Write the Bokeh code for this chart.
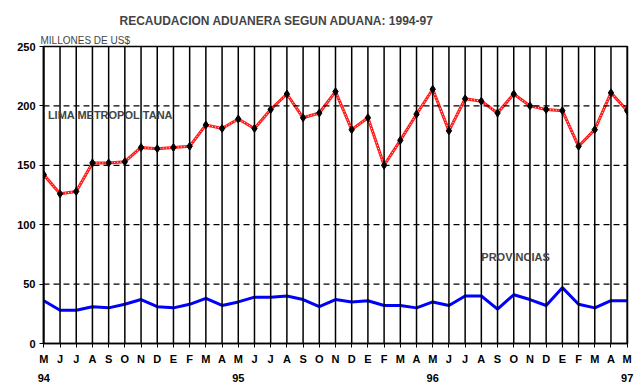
from bokeh.plotting import figure
from bokeh.models import Range1d, FixedTicker, LinearAxis, Span, Label, Title
from bokeh.embed import file_html
from bokeh.resources import INLINE

months = ["M", "J", "J", "A", "S", "O", "N", "D", "E", "F", "M", "A",
          "M", "J", "J", "A", "S", "O", "N", "D", "E", "F", "M", "A",
          "M", "J", "J", "A", "S", "O", "N", "D", "E", "F", "M", "A", "M"]
years = ["94", "95", "96", "97"]
lima = [142, 126, 128, 152, 152, 153, 165, 164, 165, 166, 184, 181,
        189, 181, 197, 210, 190, 194, 212, 180, 190, 150, 171, 193,
        214, 179, 206, 204, 194, 210, 200, 197, 196, 166, 180, 211, 196]
provincias = [36, 28, 28, 31, 30, 33, 37, 31, 30, 33, 38, 32,
              35, 39, 39, 40, 37, 31, 37, 35, 36, 32, 32, 30,
              35, 32, 40, 40, 29, 41, 37, 32, 47, 33, 30, 36, 36]
yticks = [0, 50, 100, 150, 200, 250]

xs = list(range(len(months)))
FONT = "Liberation Sans"

p = figure(width=640, height=390, output_backend="svg", toolbar_location=None, title=None,
           x_range=Range1d(-0.02, 36.02), y_range=Range1d(0, 250),
           min_border_left=43, min_border_right=13, min_border_top=46, min_border_bottom=47)
p.background_fill_color = "white"
p.border_fill_color = "white"
p.outline_line_color = "black"
p.outline_line_width = 1.5

p.xgrid.grid_line_color = None
p.ygrid.grid_line_color = None

for i in xs:
    p.add_layout(Span(location=i, dimension="height", line_color="black", line_width=1.5))
for v in [50, 100, 150, 200]:
    p.add_layout(Span(location=v, dimension="width", line_color="black", line_width=1.2, line_dash="6 4"))

ax = p.xaxis[0]
ax.ticker = FixedTicker(ticks=xs)
ax.major_label_overrides = {i: m for i, m in enumerate(months)}
ax.major_label_text_font = FONT
ax.major_label_text_font_style = "bold"
ax.major_label_text_font_size = "11px"
ax.major_label_text_color = "black"
ax.minor_tick_line_color = None
ax.major_tick_out = 4
ax.major_tick_in = 0
ax.major_tick_line_color = "black"
ax.axis_line_color = "black"
ax.axis_line_width = 1.5
ax.major_label_standoff = 5

yax = p.yaxis[0]
yax.ticker = FixedTicker(ticks=yticks)
yax.major_label_text_font = FONT
yax.major_label_text_font_style = "bold"
yax.major_label_text_font_size = "11px"
yax.major_label_text_color = "black"
yax.minor_tick_line_color = None
yax.major_tick_out = 4
yax.major_tick_in = 0
yax.major_tick_line_color = "black"
yax.axis_line_color = "black"
yax.axis_line_width = 1.5
yax.major_label_standoff = 4

year_axis = LinearAxis(ticker=FixedTicker(ticks=[0, 12, 24, 36]),
                       major_label_overrides={0: years[0], 12: years[1], 24: years[2], 36: years[3]})
year_axis.axis_line_color = None
year_axis.major_tick_line_color = None
year_axis.minor_tick_line_color = None
year_axis.major_label_text_font = FONT
year_axis.major_label_text_font_style = "bold"
year_axis.major_label_text_font_size = "11px"
year_axis.major_label_text_color = "black"
year_axis.major_label_standoff = 0
p.add_layout(year_axis, "below")

p.line(xs, lima, line_color="#ff1a1a", line_width=3)
p.line(xs, lima, line_color="white", line_width=1, line_dash="1 2")
p.scatter(xs, lima, marker="diamond", size=8, color="black")
p.line(xs, provincias, line_color="#0000ff", line_width=3)

p.add_layout(Label(x=0.25, y=192, text="LIMA METROPOLITANA", text_font=FONT,
                   text_font_style="bold", text_font_size="11px", text_baseline="middle"))
p.add_layout(Label(x=27.0, y=72.5, text="PROVINCIAS", text_font=FONT,
                   text_font_style="bold", text_font_size="11px", text_baseline="middle"))

sub = Title(text="MILLONES DE US$", align="left", offset=-3, text_font=FONT,
            text_font_style="normal", text_font_size="10px", standoff=1)
main = Title(text="RECAUDACION ADUANERA SEGUN ADUANA: 1994-97", align="left", offset=76,
             text_font=FONT, text_font_style="bold", text_font_size="12px", standoff=9)
p.add_layout(sub, "above")
p.add_layout(main, "above")

open("out.html", "w").write(file_html(p, INLINE))
